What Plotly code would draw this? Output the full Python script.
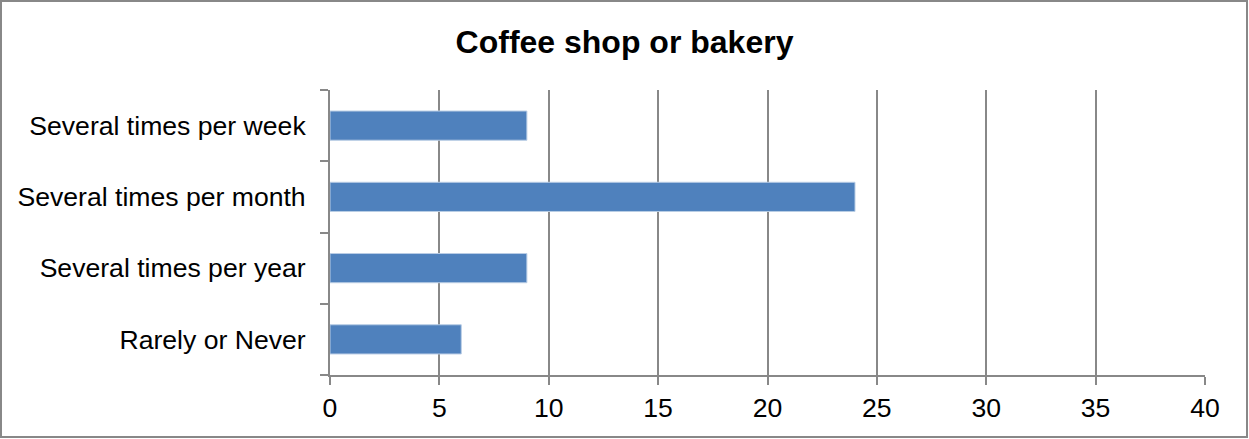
import plotly.graph_objects as go

# Survey responses: how often people visit a coffee shop or bakery
categories = ["Rarely or Never", "Several times per year", "Several times per month", "Several times per week"]
counts = [6, 9, 24, 9]
x_ticks = [0, 5, 10, 15, 20, 25, 30, 35, 40]

W, H = 1249, 439
L, R, T, B = 330, 44, 90, 64
pw, ph = W - L - R, H - T - B

grid = "#888888"

fig = go.Figure(go.Bar(
    y=categories,
    x=counts,
    orientation="h",
    marker=dict(color="#4F81BD", line=dict(color="#B9CDE5", width=1)),
))

fig.update_layout(
    width=W, height=H,
    margin=dict(l=L, r=R, t=T, b=B, pad=0),
    paper_bgcolor="white",
    plot_bgcolor="white",
    bargap=0.59,
    showlegend=False,
    font=dict(family="Arial, Liberation Sans, sans-serif", color="black", size=26.6),
    title=dict(
        text="<b>Coffee shop or bakery</b>",
        x=0.5, xanchor="center", xref="container",
        y=1 - 42 / H, yanchor="middle",
        font=dict(size=32, color="black"),
    ),
    xaxis=dict(
        range=[0, 40],
        tickvals=x_ticks,
        showgrid=True, gridcolor=grid, gridwidth=2,
        showline=True, linecolor=grid, linewidth=2,
        ticks="outside", ticklen=8, tickwidth=2, tickcolor=grid,
        zeroline=False,
        tickfont=dict(size=26.6),
    ),
    yaxis=dict(
        categoryorder="array", categoryarray=categories,
        showgrid=False,
        showline=True, linecolor=grid, linewidth=2,
        ticks="outside", ticklen=8, tickwidth=2, tickcolor=grid,
        tickson="boundaries",
        ticklabelstandoff=17,
        tickfont=dict(size=26.6),
    ),
    shapes=[dict(
        type="rect", xref="paper", yref="paper",
        x0=(1 - L) / pw, x1=(W - 2 - L) / pw,
        y0=(H - B - (H - 2)) / ph, y1=(H - B - 1) / ph,
        line=dict(color="#888888", width=2), fillcolor="rgba(0,0,0,0)",
        layer="above",
    )],
)

fig.write_html("out.html")
